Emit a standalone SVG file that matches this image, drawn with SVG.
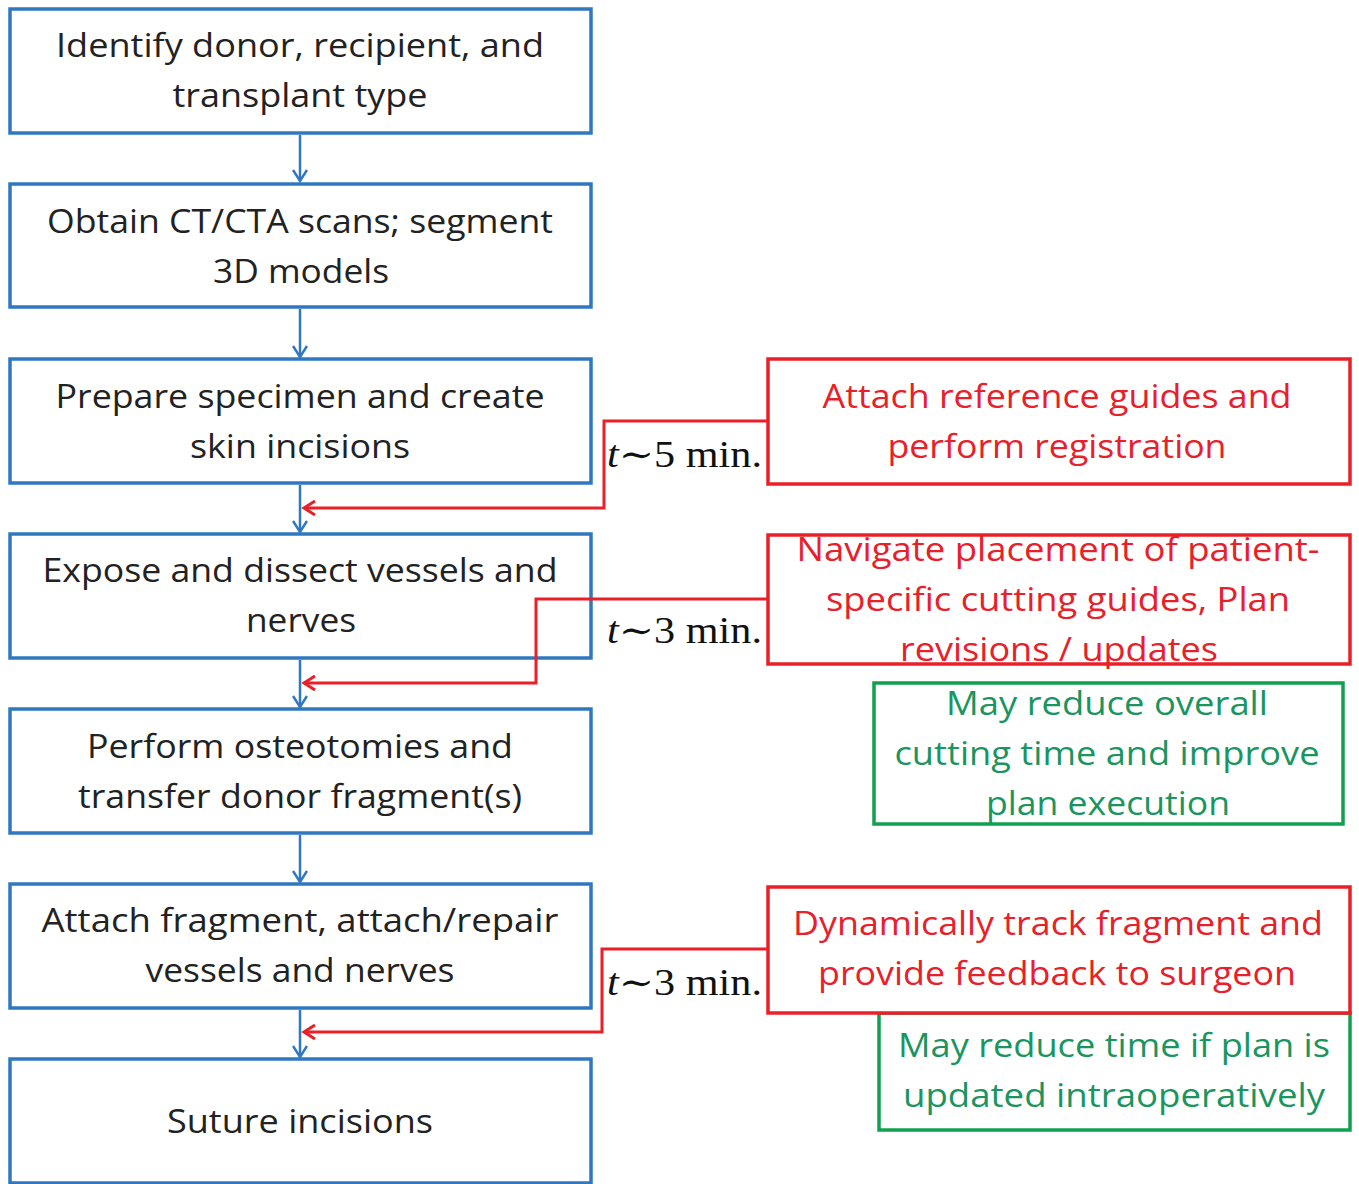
<svg xmlns="http://www.w3.org/2000/svg" width="1359" height="1184" viewBox="0 0 1359 1184">
<defs>
<style>
.bb{fill:#fff;stroke:#2f78c0;stroke-width:3.5}
.rb{fill:#fff;stroke:#ea1f28;stroke-width:3.5}
.gb{fill:none;stroke:#10a050;stroke-width:3.5}
.t{font-family:"Open Sans","Liberation Sans",sans-serif;font-size:33px;text-anchor:middle}
.tk{fill:#222}
.tr{fill:#e8202a}
.tg{fill:#1a9560}
.bl{stroke:#2f78c0;stroke-width:2.5;fill:none}
.rl{stroke:#ea1f28;stroke-width:3;fill:none}
.m{font-family:"Liberation Serif","DejaVu Serif",serif;font-size:37px;fill:#111}
</style>
<marker id="ab" markerWidth="16" markerHeight="16" refX="12" refY="8" orient="auto" markerUnits="userSpaceOnUse">
<path d="M1,1 L12,8 L1,15" fill="none" stroke="#2f78c0" stroke-width="2.5"/>
</marker>
<marker id="ar" markerWidth="16" markerHeight="16" refX="12" refY="8" orient="auto" markerUnits="userSpaceOnUse">
<path d="M1,1 L12,8 L1,15" fill="none" stroke="#ea1f28" stroke-width="3"/>
</marker>
</defs>
<rect width="1359" height="1184" fill="#fff"/>
<g id="n1"><rect class="bb" x="10" y="9" width="581" height="124"/>
<text class="t tk" x="300" y="57" textLength="488" lengthAdjust="spacingAndGlyphs">Identify donor, recipient, and</text>
<text class="t tk" x="300" y="107" textLength="255" lengthAdjust="spacingAndGlyphs">transplant type</text></g>
<g id="n2"><rect class="bb" x="10" y="184" width="581" height="123"/>
<text class="t tk" x="300" y="233" textLength="506" lengthAdjust="spacingAndGlyphs">Obtain CT/CTA scans; segment</text>
<text class="t tk" x="301" y="283" textLength="176" lengthAdjust="spacingAndGlyphs">3D models</text></g>
<g id="n3"><rect class="bb" x="10" y="359" width="581" height="124"/>
<text class="t tk" x="300" y="408" textLength="489" lengthAdjust="spacingAndGlyphs">Prepare specimen and create</text>
<text class="t tk" x="300" y="458" textLength="220" lengthAdjust="spacingAndGlyphs">skin incisions</text></g>
<g id="n4"><rect class="bb" x="10" y="534" width="581" height="124"/>
<text class="t tk" x="300" y="582" textLength="515" lengthAdjust="spacingAndGlyphs">Expose and dissect vessels and</text>
<text class="t tk" x="301" y="632" textLength="110" lengthAdjust="spacingAndGlyphs">nerves</text></g>
<g id="n5"><rect class="bb" x="10" y="709" width="581" height="124"/>
<text class="t tk" x="300" y="758" textLength="426" lengthAdjust="spacingAndGlyphs">Perform osteotomies and</text>
<text class="t tk" x="300" y="808" textLength="444" lengthAdjust="spacingAndGlyphs">transfer donor fragment(s)</text></g>
<g id="n6"><rect class="bb" x="10" y="884" width="581" height="124"/>
<text class="t tk" x="300" y="932" textLength="517" lengthAdjust="spacingAndGlyphs">Attach fragment, attach/repair</text>
<text class="t tk" x="300" y="982" textLength="309" lengthAdjust="spacingAndGlyphs">vessels and nerves</text></g>
<g id="n7"><rect class="bb" x="10" y="1059" width="581" height="124"/>
<text class="t tk" x="300" y="1133" textLength="266" lengthAdjust="spacingAndGlyphs">Suture incisions</text></g>
<g id="r1"><rect class="rb" x="768" y="359" width="582" height="125"/>
<text class="t tr" x="1057" y="408" textLength="469" lengthAdjust="spacingAndGlyphs">Attach reference guides and</text>
<text class="t tr" x="1057" y="458" textLength="339" lengthAdjust="spacingAndGlyphs">perform registration</text></g>
<g id="r2"><rect class="rb" x="768" y="535" width="582" height="129"/>
<text class="t tr" x="1058" y="561" textLength="523" lengthAdjust="spacingAndGlyphs">Navigate placement of patient-</text>
<text class="t tr" x="1058" y="611" textLength="464" lengthAdjust="spacingAndGlyphs">specific cutting guides, Plan</text>
<text class="t tr" x="1059" y="661" textLength="318" lengthAdjust="spacingAndGlyphs">revisions / updates</text></g>
<g id="g1"><rect class="gb" x="874" y="683" width="469" height="141"/>
<text class="t tg" x="1107" y="715" textLength="322" lengthAdjust="spacingAndGlyphs">May reduce overall</text>
<text class="t tg" x="1107" y="765" textLength="425" lengthAdjust="spacingAndGlyphs">cutting time and improve</text>
<text class="t tg" x="1108" y="815" textLength="244" lengthAdjust="spacingAndGlyphs">plan execution</text></g>
<g id="g2"><rect class="gb" x="879" y="1013" width="471" height="117"/>
<text class="t tg" x="1114" y="1057" textLength="432" lengthAdjust="spacingAndGlyphs">May reduce time if plan is</text>
<text class="t tg" x="1114" y="1107" textLength="422" lengthAdjust="spacingAndGlyphs">updated intraoperatively</text></g>
<g id="r3"><rect class="rb" x="768" y="887" width="582" height="126"/>
<text class="t tr" x="1058" y="935" textLength="530" lengthAdjust="spacingAndGlyphs">Dynamically track fragment and</text>
<text class="t tr" x="1057" y="985" textLength="478" lengthAdjust="spacingAndGlyphs">provide feedback to surgeon</text></g>
<g id="connectors">
<line class="bl" x1="300" y1="135" x2="300" y2="181" marker-end="url(#ab)"/>
<line class="bl" x1="300" y1="309" x2="300" y2="357" marker-end="url(#ab)"/>
<line class="bl" x1="300" y1="485" x2="300" y2="532" marker-end="url(#ab)"/>
<line class="bl" x1="300" y1="660" x2="300" y2="707" marker-end="url(#ab)"/>
<line class="bl" x1="300" y1="835" x2="300" y2="882" marker-end="url(#ab)"/>
<line class="bl" x1="300" y1="1010" x2="300" y2="1057" marker-end="url(#ab)"/>
<polyline class="rl" points="767,421 604,421 604,508 304,508" marker-end="url(#ar)"/>
<polyline class="rl" points="767,599 536,599 536,683 304,683" marker-end="url(#ar)"/>
<polyline class="rl" points="767,949 602,949 602,1032 304,1032" marker-end="url(#ar)"/>
<text class="m" x="607" y="467" textLength="155" lengthAdjust="spacingAndGlyphs"><tspan font-style="italic">t</tspan>∼5 min.</text>
<text class="m" x="607" y="643" textLength="155" lengthAdjust="spacingAndGlyphs"><tspan font-style="italic">t</tspan>∼3 min.</text>
<text class="m" x="607" y="995" textLength="155" lengthAdjust="spacingAndGlyphs"><tspan font-style="italic">t</tspan>∼3 min.</text>
</g>
</svg>
